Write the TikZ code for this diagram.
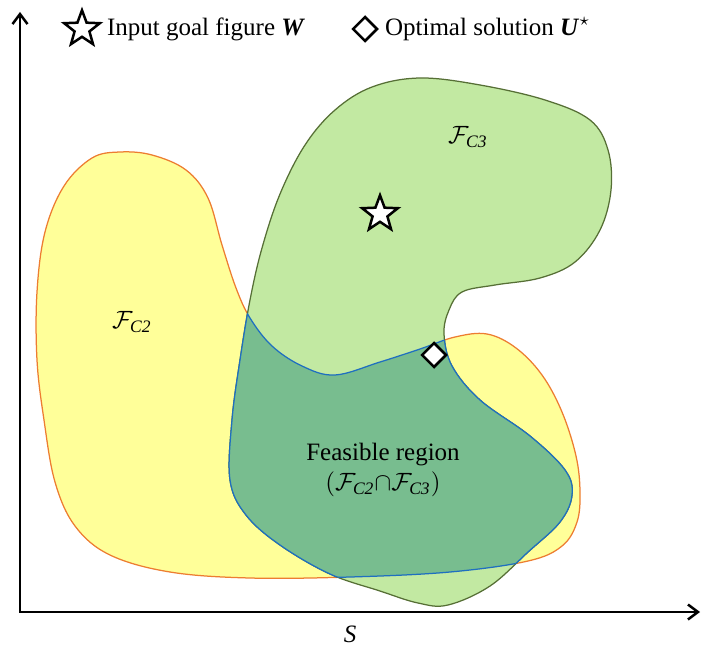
\documentclass[tikz,border=0pt]{standalone}
\usepackage{fontspec}
\setmainfont{Liberation Serif}
\usepackage{amsmath}
\usetikzlibrary{arrows.meta,positioning,shapes.geometric}
\definecolor{fillCtwo}{HTML}{FFFF99}
\definecolor{lineCtwo}{HTML}{ED7D31}
\definecolor{fillCthree}{HTML}{C2E9A2}
\definecolor{lineCthree}{HTML}{566F35}
\definecolor{fillboth}{HTML}{78BD8F}
\definecolor{lineboth}{HTML}{1F6FC0}

\newcommand\pathCtwo{plot[smooth cycle,tension=0.6] coordinates {
  (120,152) (152,155) (186,170) (208,198) (222,245) (236,288) (250,318)
  (272,346) (302,366) (335,375) (380,362) (420,349) (455,337) (487,334)
  (516,348) (542,375) (562,412) (576,456) (580,492) (577,522) (562,546)
  (528,561) (450,572) (350,577) (250,578) (170,572) (110,555) (75,526)
  (55,482) (44,420) (37,360) (37,292) (45,232) (64,186) (92,158)}}
\newcommand\pathCthree{plot[smooth cycle,tension=0.6] coordinates {
  (420,78) (480,85) (545,100) (590,120) (608,150) (611,190) (600,230)
  (575,262) (540,278) (495,285) (462,292) (449,310) (444,334) (452,366)
  (480,400) (530,436) (565,470) (572,495) (560,522) (528,552) (490,586)
  (448,605) (418,603) (380,591) (330,574) (280,545) (246,515) (230,480)
  (232,420) (240,360) (250,300) (262,248) (280,194) (305,145) (335,110)
  (372,87)}}

\begin{document}
\begin{tikzpicture}[x=0.4pt,y=-0.4pt,
  >={Straight Barb[length=4pt,width=6pt]},
  goalstar/.style={star,star points=5,star point ratio=2.4,minimum size=15pt,
    inner sep=0pt,draw,fill=white,line width=1pt},
  optdiamond/.style={diamond,minimum width=10pt,minimum height=10pt,
    inner sep=0pt,draw,fill=white,line width=1pt}]
  \useasboundingbox (0,0) rectangle (710,645);
  \fill[fillCtwo] \pathCtwo;
  \draw[lineCtwo,line width=0.5pt] \pathCtwo;
  \filldraw[fill=fillCthree,draw=lineCthree,line width=0.5pt] \pathCthree;
  \begin{scope}
    \clip \pathCtwo;
    \fill[fillboth] \pathCthree;
    \draw[lineboth,line width=0.5pt] \pathCthree;
  \end{scope}
  \begin{scope}
    \clip \pathCthree;
    \draw[lineboth,line width=0.5pt] \pathCtwo;
  \end{scope}
  \coordinate (origin) at (20,612);
  \coordinate (ytip) at (20,12);
  \coordinate (xtip) at (700,612);
  \draw[<->,line width=1pt] (ytip) -- (origin) -- (xtip);
  \node (slabel) at (350,634) {\textit{S}};
  \node (labelCtwo) at (132,322) {$\mathcal{F}_{\textit{C2}}$};
  \node (labelCthree) at (468,137) {$\mathcal{F}_{\textit{C3}}$};
  \node[align=center] (feasible) at (383,470)
    {Feasible region\\$(\mathcal{F}_{\textit{C2}}{\cap}\mathcal{F}_{\textit{C3}})$};
  \node[goalstar] (goal) at (380,214) {};
  \node[optdiamond] (optimum) at (434,355) {};
  \node[goalstar] (legstar) at (82,29) {};
  \node[right=1.5pt of legstar] (leggoal) {Input goal figure \textbf{\textit{W}}};
  \node[optdiamond] (legdiamond) at (365,29) {};
  \node[right=-1pt of legdiamond] (legopt) {Optimal solution \textbf{\textit{U}}$^\star$};
\end{tikzpicture}
\end{document}
